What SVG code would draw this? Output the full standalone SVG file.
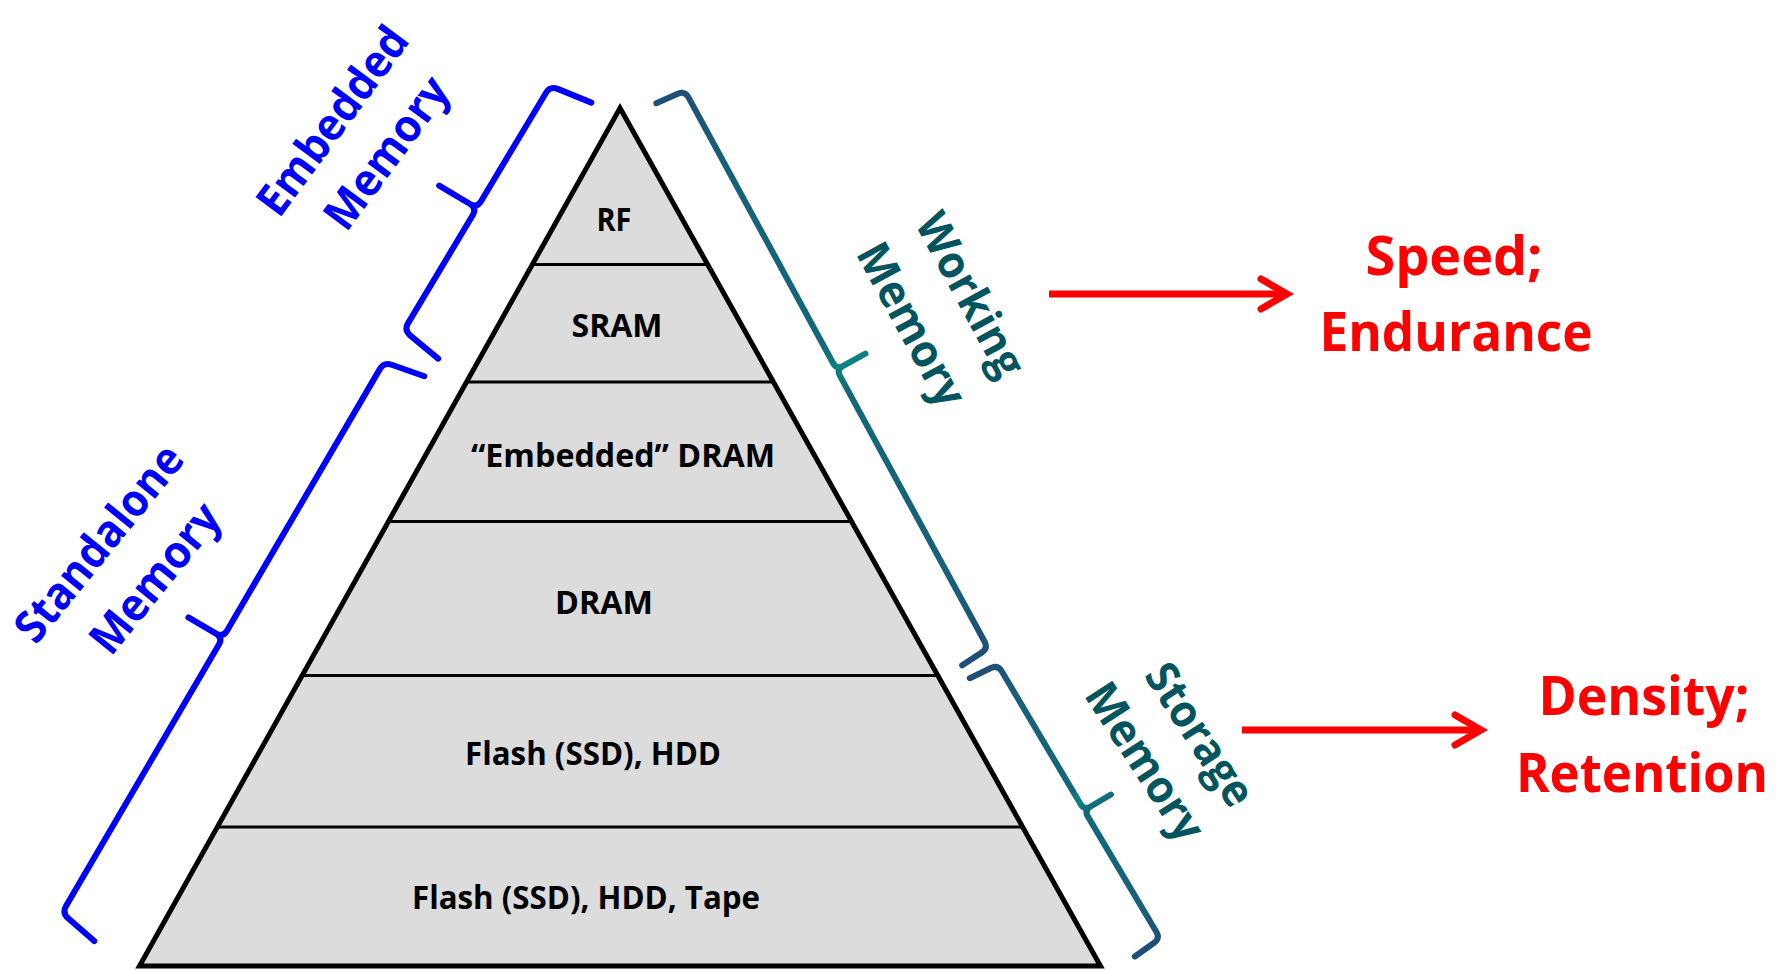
<svg xmlns="http://www.w3.org/2000/svg" width="1789" height="970" viewBox="0 0 1789 970">
  <defs>
    <!-- teal braces: navy at the ends, brighter teal at the middle tip -->
    <linearGradient id="tealGrad" x1="0" y1="0" x2="1" y2="0">
      <stop offset="0" stop-color="#1F4E79"/>
      <stop offset="0.12" stop-color="#17607A"/>
      <stop offset="0.46" stop-color="#12687A"/>
      <stop offset="0.5" stop-color="#0B8380"/>
      <stop offset="0.54" stop-color="#12687A"/>
      <stop offset="0.88" stop-color="#17607A"/>
      <stop offset="1" stop-color="#1F4E79"/>
    </linearGradient>
    <marker id="chev" markerUnits="userSpaceOnUse" markerWidth="60" markerHeight="60" viewBox="-40 -30 60 60" refX="0" refY="0" orient="auto" overflow="visible">
      <path d="M-26,-15 L0,0 L-26,15" fill="none" stroke="#FF0000" stroke-width="7" stroke-linecap="round" stroke-linejoin="miter"/>
    </marker>
  </defs>
  <style>
    .band { fill: #DCDCDC; }
    .div { stroke: #000; stroke-width: 3; }
    .frame { fill: none; stroke: #000; stroke-width: 5; stroke-linejoin: miter; }
    .lbl { font-family: "Open Sans", "Liberation Sans", sans-serif; font-weight: 700; font-size: 32px; fill: #000; text-anchor: middle; }
    .brace-blue { fill: none; stroke: #0000FF; stroke-width: 6; stroke-linecap: round; stroke-linejoin: round; }
    .brace-teal { fill: none; stroke: url(#tealGrad); stroke-width: 6; stroke-linecap: round; stroke-linejoin: round; }
    .side { font-family: "Open Sans", "Liberation Sans", sans-serif; font-weight: 700; font-size: 45px; text-anchor: middle; }
    .blue { fill: #0000FF; }
    .teal { fill: #02555E; }
    .arrow { fill: none; stroke: #FF0000; stroke-width: 7; marker-end: url(#chev); }
    .prop { font-family: "Open Sans", "Liberation Sans", sans-serif; font-weight: 700; font-size: 53px; fill: #FF0000; text-anchor: middle; }
  </style>

  <rect width="1789" height="970" fill="#FFFFFF"/>

  <!-- pyramid bands, top to bottom -->
  <g id="band-rf">
    <polygon class="band" points="620,108 707.6,264.5 532.4,264.5"/>
    <text class="lbl" x="614" y="231" textLength="35" lengthAdjust="spacingAndGlyphs">RF</text>
  </g>
  <g id="band-sram">
    <polygon class="band" points="532.4,264.5 707.6,264.5 773.4,382 466.6,382"/>
    <text class="lbl" x="617" y="337" textLength="91" lengthAdjust="spacingAndGlyphs">SRAM</text>
  </g>
  <g id="band-edram">
    <polygon class="band" points="466.6,382 773.4,382 851.6,521.5 388.4,521.5"/>
    <text class="lbl" x="623" y="467" textLength="304" lengthAdjust="spacingAndGlyphs">“Embedded” DRAM</text>
  </g>
  <g id="band-dram">
    <polygon class="band" points="388.4,521.5 851.6,521.5 937.8,675.5 302.2,675.5"/>
    <text class="lbl" x="604" y="614" textLength="98" lengthAdjust="spacingAndGlyphs">DRAM</text>
  </g>
  <g id="band-flash">
    <polygon class="band" points="302.2,675.5 937.8,675.5 1022.6,827 217.4,827"/>
    <text class="lbl" x="593" y="765" textLength="256" lengthAdjust="spacingAndGlyphs">Flash (SSD), HDD</text>
  </g>
  <g id="band-tape">
    <polygon class="band" points="217.4,827 1022.6,827 1100.5,966 139.5,966"/>
    <text class="lbl" x="586" y="909" textLength="348" lengthAdjust="spacingAndGlyphs">Flash (SSD), HDD, Tape</text>
  </g>

  <!-- band dividers and outline -->
  <g id="pyramid-frame">
    <line class="div" x1="532.4" y1="264.5" x2="707.6" y2="264.5"/>
    <line class="div" x1="466.6" y1="382" x2="773.4" y2="382"/>
    <line class="div" x1="388.4" y1="521.5" x2="851.6" y2="521.5"/>
    <line class="div" x1="302.2" y1="675.5" x2="937.8" y2="675.5"/>
    <line class="div" x1="217.4" y1="827" x2="1022.6" y2="827"/>
    <polygon class="frame" points="620,108 1100.5,966 139.5,966"/>
  </g>

  <!-- side labels -->
  <g id="label-embedded">
    <text class="side blue" transform="translate(345,130) rotate(-53.5)" textLength="222" lengthAdjust="spacingAndGlyphs">Embedded</text>
    <text class="side blue" transform="translate(399,162) rotate(-53.5)" textLength="177" lengthAdjust="spacingAndGlyphs">Memory</text>
  </g>
  <g id="label-standalone">
    <text class="side blue" transform="translate(111,553) rotate(-51)" textLength="239" lengthAdjust="spacingAndGlyphs">Standalone</text>
    <text class="side blue" transform="translate(167,588) rotate(-51)" textLength="179" lengthAdjust="spacingAndGlyphs">Memory</text>
  </g>
  <g id="label-working">
    <text class="side teal" transform="translate(957,302) rotate(61.5)" textLength="179" lengthAdjust="spacingAndGlyphs">Working</text>
    <text class="side teal" transform="translate(898,332) rotate(61.5)" textLength="179" lengthAdjust="spacingAndGlyphs">Memory</text>
  </g>
  <g id="label-storage">
    <text class="side teal" transform="translate(1187,743) rotate(57)" textLength="161" lengthAdjust="spacingAndGlyphs">Storage</text>
    <text class="side teal" transform="translate(1132,770) rotate(57)" textLength="179" lengthAdjust="spacingAndGlyphs">Memory</text>
  </g>

  <!-- properties -->
  <g id="prop-speed">
    <text class="prop" x="1454" y="275" textLength="177" lengthAdjust="spacingAndGlyphs">Speed;</text>
    <text class="prop" x="1456" y="351" textLength="273" lengthAdjust="spacingAndGlyphs">Endurance</text>
  </g>
  <g id="prop-density">
    <text class="prop" x="1644" y="715" textLength="211" lengthAdjust="spacingAndGlyphs">Density;</text>
    <text class="prop" x="1642" y="792" textLength="252" lengthAdjust="spacingAndGlyphs">Retention</text>
  </g>

  <!-- braces and arrows -->
  <g id="connectors">
    <path id="brace-embedded" class="brace-blue" transform="translate(404,330) rotate(-59.1)"
          d="M-7,44 L-1.5,8 Q0,0 8,0 L134,0 Q142,0 142,-8 L142,-44 M142,-8 Q142,0 150,0 L276.3,0 Q284.3,0 285.8,8 L291.3,44"/>
    <path id="brace-standalone" class="brace-blue" transform="translate(62,913) rotate(-59.7)"
          d="M-8,42 L-1.5,8 Q0,0 8,0 L311,0 Q319,0 319,-8 L319,-40 M319,-8 Q319,0 327,0 L630.2,0 Q638.2,0 639.7,8 L646.2,42"/>
    <path id="brace-working" class="brace-teal" transform="translate(685,91) rotate(61.45)"
          d="M-3,31 L-1,7 Q0,0 7,0 L310,0 Q317,0 317,-7 L317,-33 M317,-7 Q317,0 324,0 L627,0 Q634,0 635,7 L637,31"/>
    <path id="brace-storage" class="brace-teal" transform="translate(998,665) rotate(59.32)"
          d="M-3,31 L-1,7 Q0,0 7,0 L162,0 Q169,0 169,-7 L169,-31 M169,-7 Q169,0 176,0 L310.5,0 Q317.5,0 318.5,7 L320.5,31"/>
    <line id="arrow-speed" class="arrow" x1="1049" y1="294" x2="1287" y2="294"/>
    <line id="arrow-density" class="arrow" x1="1242" y1="730" x2="1481" y2="730"/>
  </g>
</svg>
